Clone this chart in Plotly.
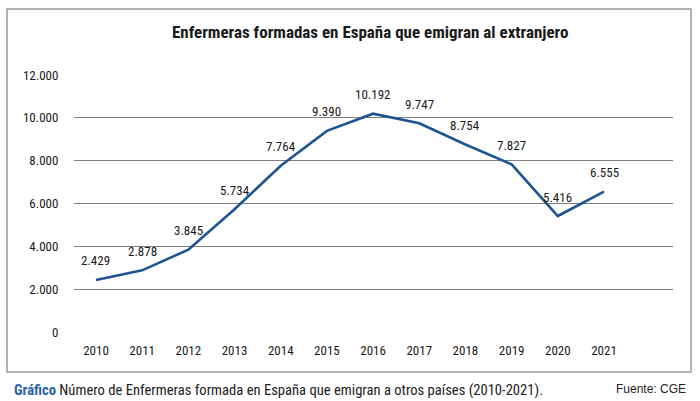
import plotly.graph_objects as go

years = [2010, 2011, 2012, 2013, 2014, 2015, 2016, 2017, 2018, 2019, 2020, 2021]
enfermeras = [2429, 2878, 3845, 5734, 7764, 9390, 10192, 9747, 8754, 7827, 5416, 6555]
y_ticks = [0, 2000, 4000, 6000, 8000, 10000, 12000]
y_tick_labels = ["0", "2.000", "4.000", "6.000", "8.000", "10.000", "12.000"]
x_tick_labels = [str(y) for y in years]

def fmt(v):
    return f"{v:,}".replace(",", ".")

FONT = "Liberation Sans Narrow, Roboto Condensed, Arial Narrow, Liberation Sans, sans-serif"

fig = go.Figure()
fig.add_trace(go.Scatter(
    x=years, y=enfermeras, mode="lines",
    line=dict(color="#1d5592", width=2.6),
    hoverinfo="skip", showlegend=False,
))

for x, v in zip(years, enfermeras):
    fig.add_annotation(x=x, y=v, text=fmt(v), showarrow=False,
                       yanchor="middle", yshift=19,
                       font=dict(family=FONT, size=13, color="#1a1a1a"))

L, R, T, B = 74, 27, 75, 69
W, H = 700, 401
pw, ph = W - L - R, H - T - B

def px(x):
    return (x - L) / pw

def py(y):
    return (H - B - y) / ph

fig.add_shape(type="rect", xref="paper", yref="paper",
              x0=px(7), x1=px(691), y0=py(9), y1=py(372),
              line=dict(color="#9a9a9a", width=1.5), layer="above")

fig.add_annotation(xref="paper", yref="paper", x=px(370), y=py(32),
                   text="<b>Enfermeras formadas en España que emigran al extranjero</b>",
                   showarrow=False, xanchor="center", yanchor="middle",
                   font=dict(family=FONT, size=17, color="#1a1a1a"))

fig.add_annotation(xref="paper", yref="paper", x=px(12), y=py(390),
                   text="<b><span style='color:#2a64a8'>Gráfico</span></b> Número de Enfermeras formada en España que emigran a otros países (2010-2021).",
                   showarrow=False, xanchor="left", yanchor="middle",
                   font=dict(family=FONT, size=14.6, color="#222"))

fig.add_annotation(xref="paper", yref="paper", x=px(688), y=py(389),
                   text="Fuente: CGE",
                   showarrow=False, xanchor="right", yanchor="middle",
                   font=dict(family="Liberation Sans, Arial, sans-serif", size=12, color="#222"))

fig.update_layout(
    width=W, height=H,
    margin=dict(l=L, r=R, t=T, b=B),
    paper_bgcolor="white", plot_bgcolor="white",
    font=dict(family=FONT, size=13, color="#222"),
    xaxis=dict(range=[2009.524, 2022.494], tickvals=years, ticktext=x_tick_labels,
               showgrid=False, zeroline=False, showline=False,
               ticks="outside", ticklen=6, tickcolor="rgba(0,0,0,0)",
               tickfont=dict(family=FONT, size=13, color="#1a1a1a")),
    yaxis=dict(range=[0, 12000], tickvals=y_ticks, ticktext=y_tick_labels,
               showgrid=True, gridcolor="#7f7f7f", gridwidth=1.4,
               zeroline=False, showline=False,
               ticks="outside", ticklen=12, tickcolor="rgba(0,0,0,0)",
               tickfont=dict(family=FONT, size=13, color="#1a1a1a")),
)

fig.write_html("out.html", config={"displayModeBar": False},
               post_script="document.body.style.margin='0';document.body.style.overflow='hidden';")
